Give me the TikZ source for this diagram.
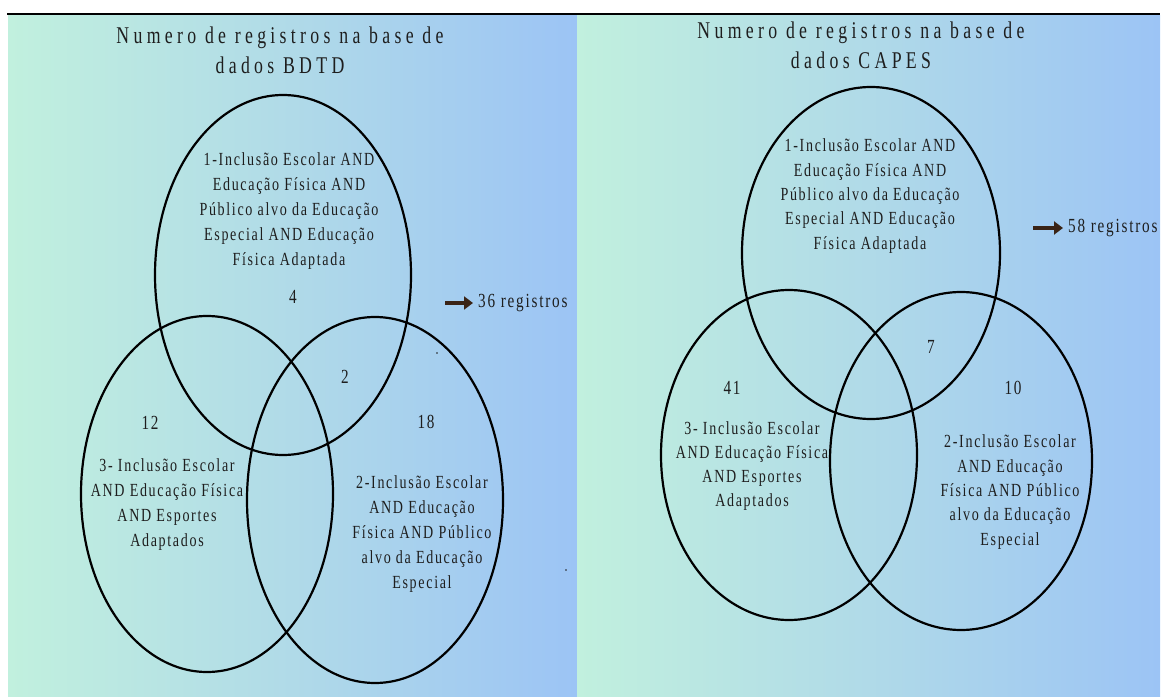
\documentclass[tikz,border=0pt]{standalone}
\usepackage{fontspec}
\setmainfont{Liberation Serif}
\newfontfamily\ttlfont{Liberation Serif}[FakeStretch=0.74,LetterSpace=18]
\newfontfamily\bdyfont{Liberation Serif}[FakeStretch=0.76,LetterSpace=9]
\usetikzlibrary{arrows.meta}
\definecolor{mintc}{RGB}{193,240,222}
\definecolor{midc}{RGB}{176,218,232}
\definecolor{bluec}{RGB}{156,196,245}
\definecolor{inkc}{RGB}{30,30,30}
\definecolor{arrc}{RGB}{58,36,22}
\tikzset{
  ttl/.style={font=\ttlfont\fontsize{24}{30}\selectfont, align=center, text=inkc, inner sep=0},
  lbl/.style={font=\bdyfont\fontsize{18.5}{25}\selectfont, align=center, text=inkc, inner sep=0},
  lblr/.style={font=\bdyfont\fontsize{18.5}{24.3}\selectfont, align=center, text=inkc, inner sep=0},
  num/.style={font=\bdyfont\fontsize{20}{22}\selectfont, text=inkc, inner sep=0},
  reg/.style={font=\bdyfont\fontsize{20}{22}\selectfont, text=inkc, inner sep=0, anchor=west},
  venn/.style={line width=2.2pt, draw=black},
  regarrow/.style={arrc, line width=3.4pt, shorten >=5pt, -{Triangle[length=9pt,width=13pt]}},
  panel/.style={left color=mintc, right color=bluec, middle color=midc}
}
\begin{document}
\begin{tikzpicture}[x=1pt,y=-1pt]
\useasboundingbox (0,0) rectangle (1167,698);
% panels
\shade[panel] (8,16) rectangle (577,696);
\shade[panel] (577,16) rectangle (1160,696);
\draw[line width=1.2pt] (7,14) -- (1160,14);

% ---------------- left: BDTD ----------------
\node[ttl] (tl) at (280,50) {Numero de registros na base de\\dados BDTD};
\draw[venn] (283,275) ellipse [x radius=128, y radius=180];
\draw[venn] (207,494) ellipse [x radius=126, y radius=178];
\draw[venn] (375,500) ellipse [x radius=128, y radius=183];
\node[lbl] (l1) at (289,211) {1-Inclusão Escolar AND\\Educação Física AND\\Público alvo da Educação\\Especial AND Educação\\Física Adaptada};
\node[num] (l4) at (293,297) {4};
\node[num] (l2) at (345,377) {2};
\node[num] (l18) at (426,422) {18};
\node[num] (l12) at (150,423) {12};
\node[lbl] (l3t) at (167,505) {3- Inclusão Escolar\\AND Educação Física\\AND Esportes\\Adaptados};
\node[lbl] (l2t) at (422,534) {2-Inclusão Escolar\\AND Educação\\Física AND Público\\alvo da Educação\\Especial};
\coordinate (la) at (445,303);
\node[reg] (lr) at (478,303) {36 registros};
\draw[regarrow] (la) -- (lr.west);
\fill[inkc] (437,353) circle (0.9);
\fill[inkc] (566,570) circle (0.9);

% ---------------- right: CAPES ----------------
\node[ttl] (tr) at (861,45) {Numero de registros na base de\\dados CAPES};
\draw[venn] (871,253) ellipse [x radius=129, y radius=166];
\draw[venn] (789,455) ellipse [x radius=128, y radius=165];
\draw[venn] (961,461) ellipse [x radius=131, y radius=169];
\node[lblr] (r1) at (870,196) {1-Inclusão Escolar AND\\Educação Física AND\\Público alvo da Educação\\Especial AND Educação\\Física Adaptada};
\node[num] (r7) at (931,347) {7};
\node[num] (r10) at (1013,388) {10};
\node[num] (r41) at (732,388) {41};
\node[lblr] (r3t) at (752,466) {3- Inclusão Escolar\\AND Educação Física\\AND Esportes\\Adaptados};
\node[lblr] (r2t) at (1010,492) {2-Inclusão Escolar\\AND Educação\\Física AND Público\\alvo da Educação\\Especial};
\coordinate (ra) at (1033,228);
\node[reg] (rr) at (1068,228) {58 registros};
\draw[regarrow] (ra) -- (rr.west);
\end{tikzpicture}
\end{document}
